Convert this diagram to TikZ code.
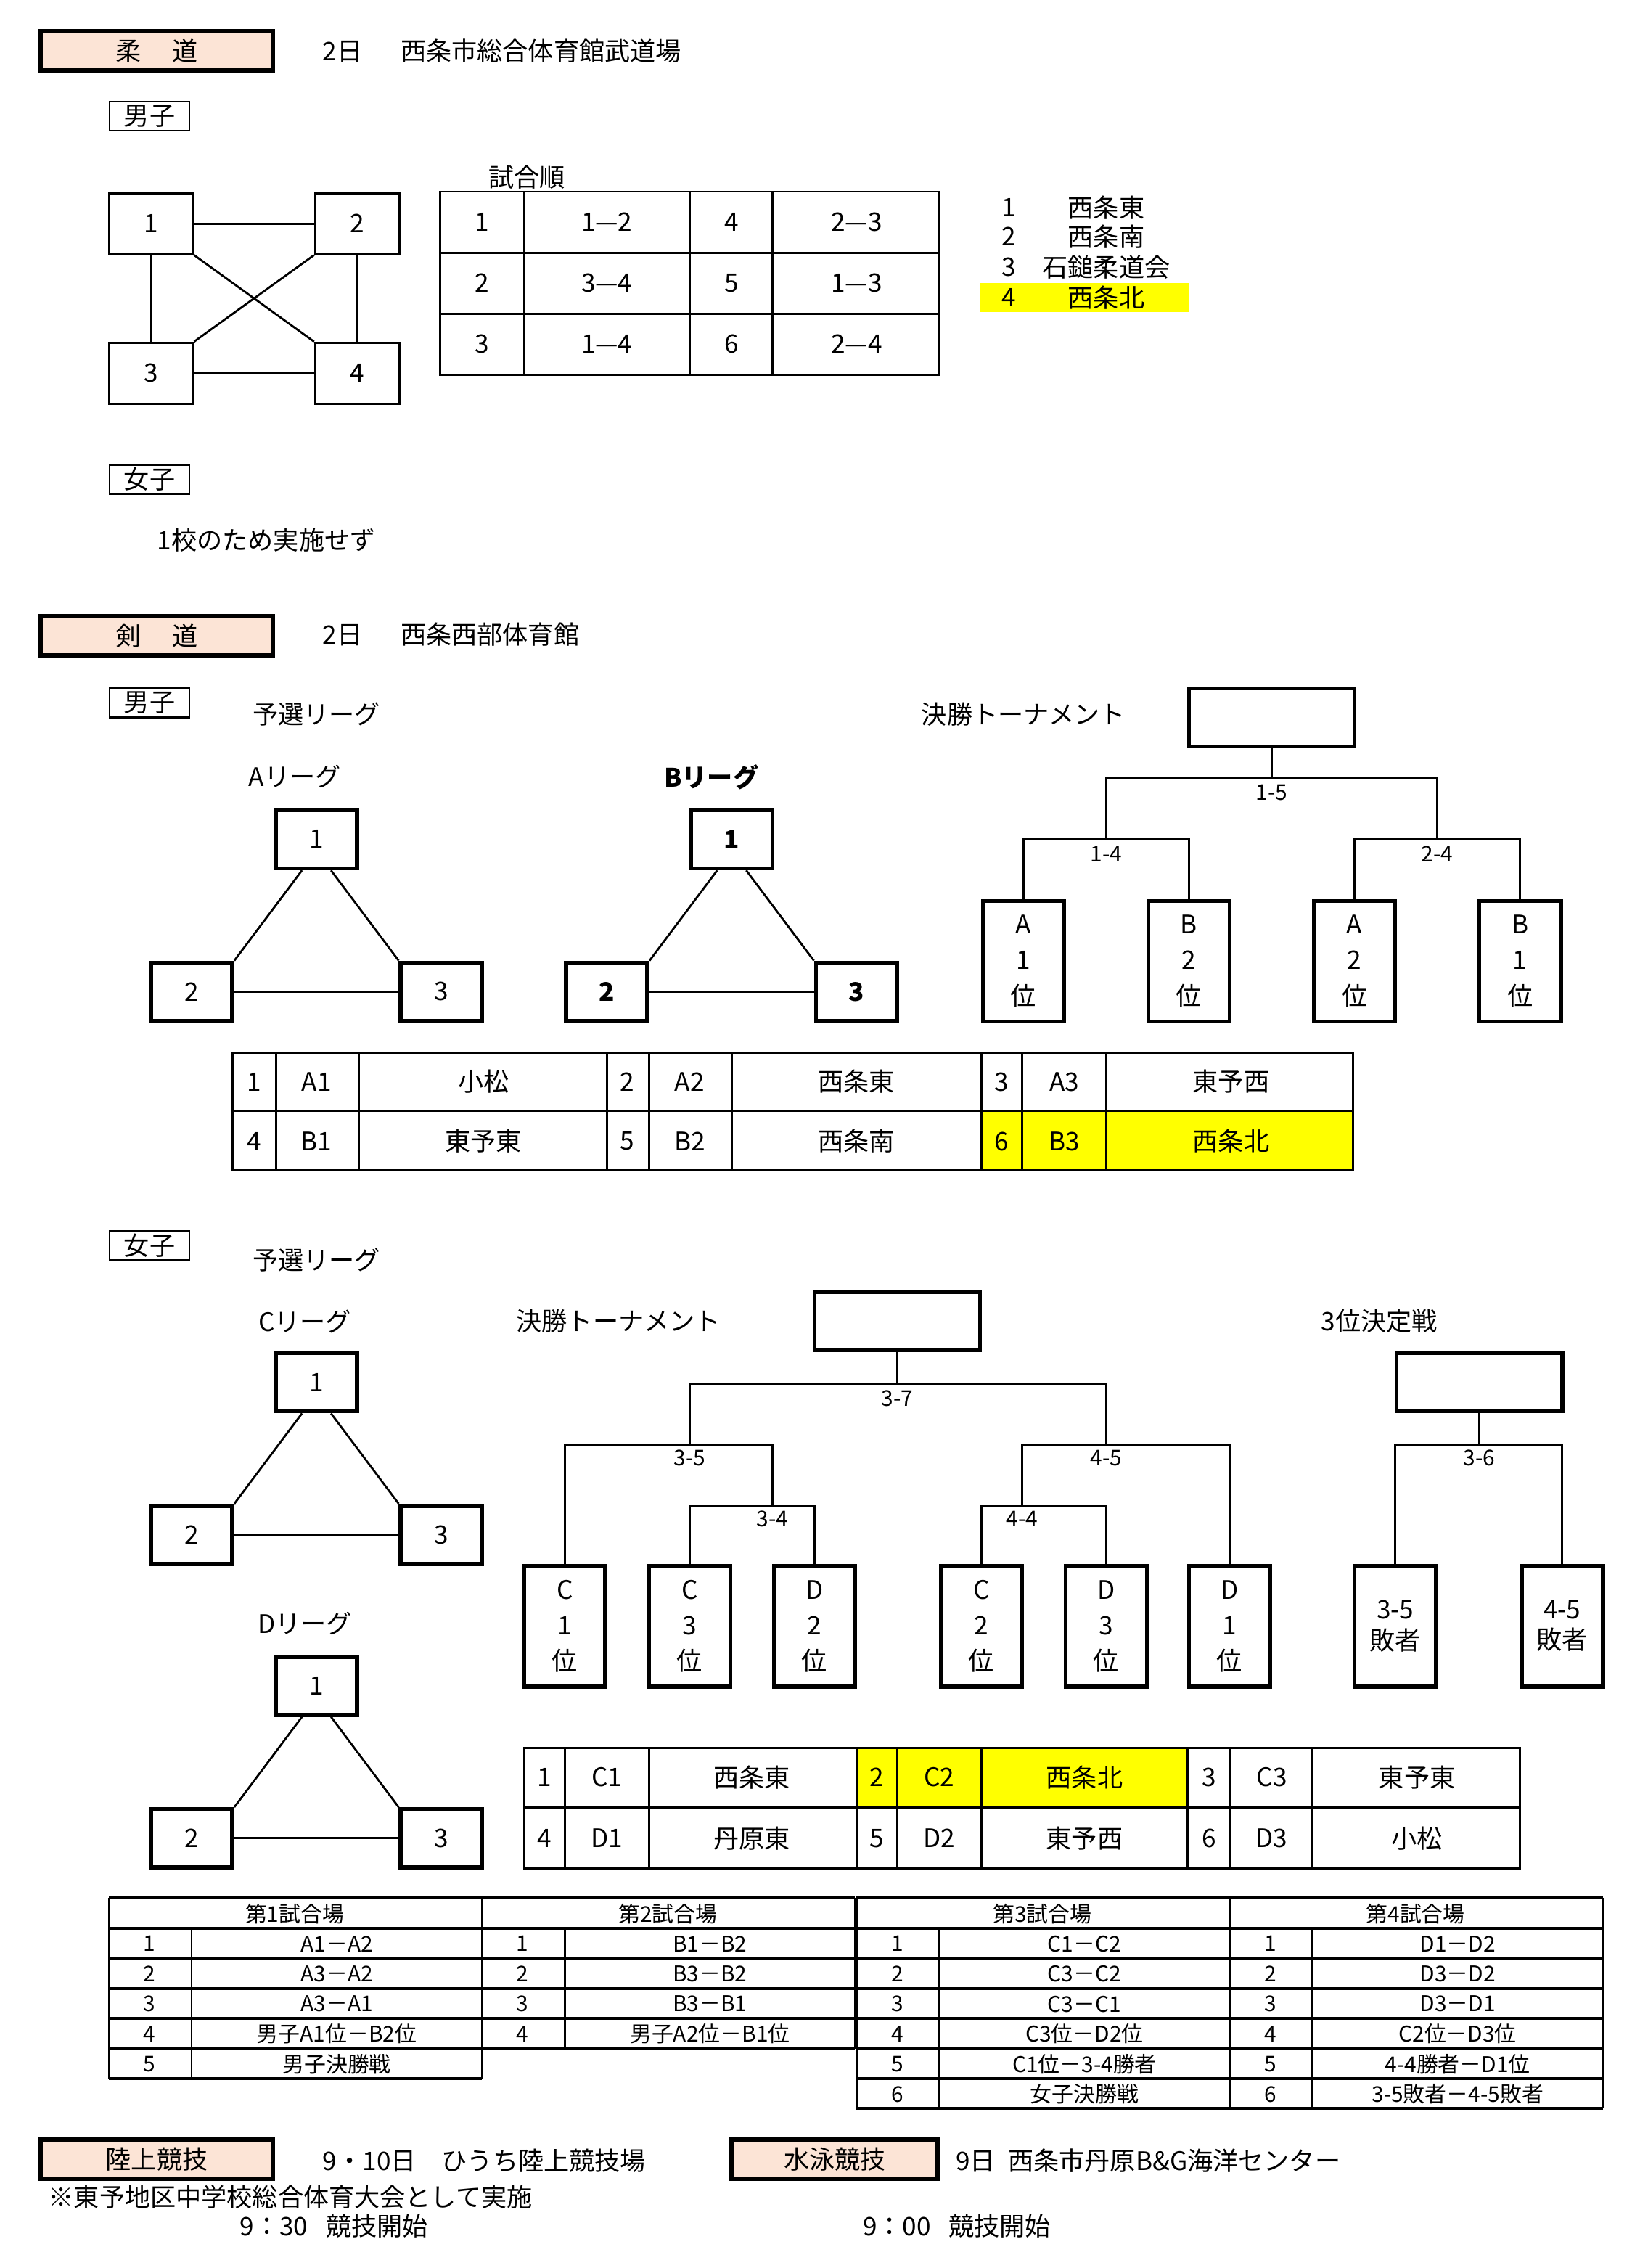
\documentclass[tikz,border=0pt]{standalone}
\usepackage{fontspec}
\setmainfont{Noto Sans CJK JP}
\usetikzlibrary{positioning}
\definecolor{hdrpink}{RGB}{252,228,214}
\definecolor{hiyel}{RGB}{255,255,0}
\tikzset{
  hdr/.style={draw, line width=1.8pt, fill=hdrpink, minimum width=3.2cm, minimum height=0.54cm, inner sep=0pt},
  sexbox/.style={draw, line width=0.8pt, minimum width=1.1cm, minimum height=0.4cm, inner sep=0pt},
  jbox/.style={draw, line width=0.8pt, minimum width=1.16cm, minimum height=0.84cm, inner sep=0pt},
  team/.style={draw, line width=1.6pt, minimum width=1.12cm, minimum height=0.8cm, inner sep=0pt},
  vbox/.style={draw, line width=1.6pt, minimum width=1.12cm, minimum height=1.66cm, inner sep=0pt, align=center, font=\fontsize{10}{14}\selectfont},
  wbox/.style={draw, line width=1.6pt, minimum width=2.28cm, minimum height=0.8cm, inner sep=0pt},
  txt/.style={inner sep=0pt, font=\fontsize{10}{12}\selectfont},
  small/.style={inner sep=0pt, font=\fontsize{8.5}{10}\selectfont},
  grid/.style={line width=0.8pt},
}
\newcommand\leaguetri[4]{% prefix, x, y, font
  \node[team, font=#4] (#1one) at (#2,#3) {1};
  \node[team, font=#4] (#1two) at (#2-86,#3+105) {2};
  \node[team, font=#4] (#1three) at (#2+86,#3+105) {3};
  \draw[line width=0.8pt] ([xshift=-0.2cm]#1one.south) -- (#1two.north east);
  \draw[line width=0.8pt] ([xshift=0.2cm]#1one.south) -- (#1three.north west);
  \draw[line width=0.8pt] (#1two) -- (#1three);
}
\begin{document}
\begin{tikzpicture}[x=0.02cm, y=-0.02cm, font=\fontsize{10}{12}\selectfont]
\useasboundingbox (0,0) rectangle (1135,1562);

% ---------- judo
\node[hdr] (judo) at (108,35) {柔\hspace{1.2em}道};
\node[txt, anchor=west] (judoplace) at (222,35) {2日\hspace{1.5em}西条市総合体育館武道場};
\node[sexbox] (jboys) at (103,80) {男子};
\node[jbox] (j1) at (104,154) {1};
\node[jbox] (j2) at (246,154) {2};
\node[jbox] (j3) at (104,257) {3};
\node[jbox] (j4) at (246,257) {4};
\draw[grid] (j1) -- (j2);
\draw[grid] (j3) -- (j4);
\draw[grid] (j1.south) -- (j3.north);
\draw[grid] (j2.south) -- (j4.north);
\draw[grid] (j1.south east) -- (j4.north west);
\draw[grid] (j2.south west) -- (j3.north east);
\node[txt] (jorder) at (363,122) {試合順};
\draw[grid] (303,132) rectangle (647,258);
\foreach \yy in {174,216} \draw[grid] (303,\yy) -- (647,\yy);
\foreach \xx in {361,475,532} \draw[grid] (\xx,132) -- (\xx,258);
\foreach \n/\m/\k/\l [count=\i] in {1/1—2/4/2—3, 2/3—4/5/1—3, 3/1—4/6/2—4}{
  \node[txt] at (332,111+42*\i) {\n};
  \node[txt] at (418,111+42*\i) {\m};
  \node[txt] at (504,111+42*\i) {\k};
  \node[txt] at (590,111+42*\i) {\l};
}
\fill[hiyel] (675,195) rectangle (819,215);
\foreach \n/\s/\y in {1/西条東/143, 2/西条南/163, 3/石鎚柔道会/184, 4/西条北/205}{
  \node[txt] at (695,\y) {\n};
  \node[txt] at (762,\y) {\s};
}
\node[sexbox] (jgirls) at (103,330) {女子};
\node[txt, anchor=west] (jnone) at (108,372) {1校のため実施せず};

% ---------- kendo
\node[hdr] (kendo) at (108,438) {剣\hspace{1.2em}道};
\node[txt, anchor=west] (kendoplace) at (222,437) {2日\hspace{1.5em}西条西部体育館};
\node[sexbox] (kboys) at (103,484) {男子};
\node[txt] (kpre) at (218,492) {予選リーグ};
\node[txt] (aleague) at (203,535) {Aリーグ};
\node[txt, font=\fontsize{10}{12}\selectfont\bfseries] (bleague) at (490,535) {Bリーグ};
\leaguetri{a}{218}{578}{\fontsize{10}{12}\selectfont}
\leaguetri{b}{504}{578}{\fontsize{10}{12}\selectfont\bfseries}
\node[txt] (mfinal) at (705,492) {決勝トーナメント};
\node[wbox] (mtop) at (876,494) {};
\foreach \nm/\x/\t in {ma1/705/A\\1\\位, mb2/819/B\\2\\位, ma2/933/A\\2\\位, mb1/1047/B\\1\\位}
  \node[vbox] (\nm) at (\x,662) {\t};
\coordinate (m15) at (876,536);
\coordinate (m14) at (762,578);
\coordinate (m24) at (990,578);
\draw[grid] (mtop.south) -- (m15);
\draw[grid] (m14) |- (m15) -| (m24);
\draw[grid] (ma1.north) |- (m14) -| (mb2.north);
\draw[grid] (ma2.north) |- (m24) -| (mb1.north);
\node[small] at (876,546) {1-5};
\node[small] at (762,588) {1-4};
\node[small] at (990,588) {2-4};
% men table
\fill[hiyel] (676,765) rectangle (932,806);
\draw[grid] (160,725) rectangle (932,806);
\draw[grid] (160,765) -- (932,765);
\foreach \xx in {190,247,418,447,504,676,704,762} \draw[grid] (\xx,725) -- (\xx,806);
\foreach \a/\b/\c/\x [count=\i] in {1/A1/小松/0, 2/A2/西条東/257, 3/A3/東予西/515}{
  \node[txt] at (175+\x,745) {\a};
  \node[txt] at (218+\x,745) {\b};
  \node[txt] at (333+\x,745) {\c};
}
\foreach \a/\b/\c/\x in {4/B1/東予東/0, 5/B2/西条南/257, 6/B3/西条北/515}{
  \node[txt] at (175+\x,786) {\a};
  \node[txt] at (218+\x,786) {\b};
  \node[txt] at (333+\x,786) {\c};
}

% women
\node[sexbox] (kgirls) at (103,858) {女子};
\node[txt] (wpre) at (218,868) {予選リーグ};
\node[txt] (cleague) at (210,910) {Cリーグ};
\leaguetri{c}{218}{952}{\fontsize{10}{12}\selectfont}
\node[txt] (dleague) at (210,1118) {Dリーグ};
\leaguetri{d}{218}{1161}{\fontsize{10}{12}\selectfont}
\node[txt] (wfinal) at (426,910) {決勝トーナメント};
\node[wbox] (wtop) at (618,910) {};
\foreach \nm/\x/\t in {wc1/389/C\\1\\位, wc3/475/C\\3\\位, wd2/561/D\\2\\位, wc2/676/C\\2\\位, wd3/762/D\\3\\位, wd1/847/D\\1\\位}
  \node[vbox] (\nm) at (\x,1120) {\t};
\coordinate (w37) at (618,953);
\coordinate (w35) at (475,995);
\coordinate (w45) at (762,995);
\coordinate (w34) at (532,1037);
\coordinate (w44) at (704,1037);
\draw[grid] (wtop.south) -- (w37);
\draw[grid] (w35) |- (w37) -| (w45);
\draw[grid] (wc1.north) |- (w35) -| (w34);
\draw[grid] (wc3.north) |- (w34) -| (wd2.north);
\draw[grid] (w44) |- (w45) -| (wd1.north);
\draw[grid] (wc2.north) |- (w44) -| (wd3.north);
\node[small] at (618,963) {3-7};
\node[small] at (475,1004) {3-5};
\node[small] at (762,1004) {4-5};
\node[small] at (532,1046) {3-4};
\node[small] at (704,1046) {4-4};
\node[txt] (third) at (950,910) {3位決定戦};
\node[wbox] (ttop) at (1019,952) {};
\node[vbox, font=\fontsize{10}{12}\selectfont] (t35) at (961,1120) {3-5\\敗者};
\node[vbox, font=\fontsize{10}{12}\selectfont] (t45) at (1076,1120) {4-5\\敗者};
\coordinate (t36) at (1019,995);
\draw[grid] (ttop.south) -- (t36);
\draw[grid] (t35.north) |- (t36) -| (t45.north);
\node[small] at (1019,1004) {3-6};
% women table
\fill[hiyel] (590,1204) rectangle (818,1245);
\draw[grid] (361,1204) rectangle (1047,1287);
\draw[grid] (361,1245) -- (1047,1245);
\foreach \xx in {389,447,590,618,676,818,847,904} \draw[grid] (\xx,1204) -- (\xx,1287);
\foreach \a/\b/\c/\x in {1/C1/西条東/0, 2/C2/西条北/229, 3/C3/東予東/458}{
  \node[txt] at (375+\x,1224) {\a};
  \node[txt] at (418+\x,1224) {\b};
  \node[txt] at (518+\x,1224) {\c};
}
\foreach \a/\b/\c/\x in {4/D1/丹原東/0, 5/D2/東予西/229, 6/D3/小松/458}{
  \node[txt] at (375+\x,1266) {\a};
  \node[txt] at (418+\x,1266) {\b};
  \node[txt] at (518+\x,1266) {\c};
}

% ---------- schedule
\foreach \x/\h/\r in {75/第1試合場/5, 332/第2試合場/4, 590/第3試合場/6, 847/第4試合場/6}{
  \draw[line width=1.2pt] (\x,1307) -- (\x+257,1307);
  \draw[grid] (\x,1307) -- (\x,1328+20.7*\r);
  \draw[grid] (\x+257,1307) -- (\x+257,1328+20.7*\r);
  \draw[grid] (\x+57,1328) -- (\x+57,1328+20.7*\r);
  \foreach \k in {0,...,\r} \draw[line width=1.2pt] (\x,1328+20.7*\k) -- (\x+257,1328+20.7*\k);
  \node[small] at (\x+128,1318) {\h};
  \foreach \k in {1,...,\r} \node[small] at (\x+28,1318+20.7*\k) {\k};
}
\foreach \k/\s in {1/A1－A2, 2/A3－A2, 3/A3－A1, 4/男子A1位－B2位, 5/男子決勝戦}
  \node[small] at (232,1318+20.7*\k) {\s};
\foreach \k/\s in {1/B1－B2, 2/B3－B2, 3/B3－B1, 4/男子A2位－B1位}
  \node[small] at (489,1318+20.7*\k) {\s};
\foreach \k/\s in {1/C1－C2, 2/C3－C2, 3/C3－C1, 4/C3位－D2位, 5/C1位－3-4勝者, 6/女子決勝戦}
  \node[small] at (747,1318+20.7*\k) {\s};
\foreach \k/\s in {1/D1－D2, 2/D3－D2, 3/D3－D1, 4/C2位－D3位, 5/4-4勝者－D1位, 6/3-5敗者－4-5敗者}
  \node[small] at (1004,1318+20.7*\k) {\s};

% ---------- track / swimming
\node[hdr] (track) at (108,1487) {陸上競技};
\node[txt, anchor=west] (trackplace) at (222,1488) {9・10日\hspace{1em}ひうち陸上競技場};
\node[hdr, minimum width=2.84cm] (swim) at (575,1487) {水泳競技};
\node[txt, anchor=west] (swimplace) at (658,1488) {9日\hspace{0.5em}西条市丹原B\&G海洋センター};
\node[txt, anchor=west] (tnote) at (33,1513) {※東予地区中学校総合体育大会として実施};
\node[txt, anchor=west] (tstart) at (165,1533) {9：30\hspace{0.7em}競技開始};
\node[txt, anchor=west] (sstart) at (594,1533) {9：00\hspace{0.7em}競技開始};
\end{tikzpicture}
\end{document}
